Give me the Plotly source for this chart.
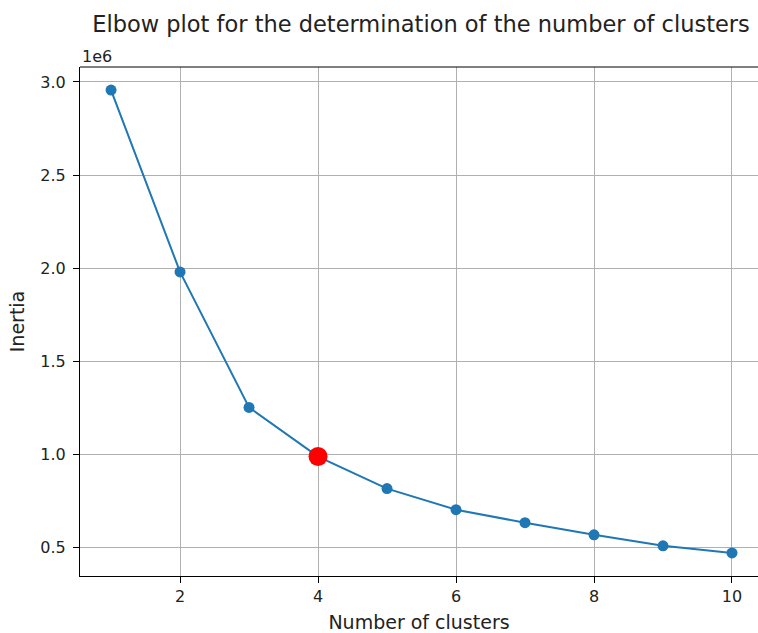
import plotly.graph_objects as go

n_clusters = [1, 2, 3, 4, 5, 6, 7, 8, 9, 10]
inertia = [2956000, 1980000, 1253000, 989000, 817000, 704000, 634000, 569000, 510000, 472000]
elbow_k = 4
elbow_inertia = 989000

x_ticks = [2, 4, 6, 8, 10]
y_ticks = [0.5, 1.0, 1.5, 2.0, 2.5, 3.0]
y_tick_labels = ["0.5", "1.0", "1.5", "2.0", "2.5", "3.0"]

scale = 1e6
y_scaled = [v / scale for v in inertia]

W, H = 758, 633
L, R, T, B = 80, 0, 67, 57

fig = go.Figure()
fig.add_trace(go.Scatter(
    x=n_clusters, y=y_scaled, mode="lines+markers",
    line=dict(color="#1f77b4", width=2),
    marker=dict(color="#1f77b4", size=11),
    showlegend=False, cliponaxis=False,
))
fig.add_trace(go.Scatter(
    x=[elbow_k], y=[elbow_inertia / scale], mode="markers",
    marker=dict(color="red", size=19),
    showlegend=False, cliponaxis=False,
))

axis_common = dict(
    showgrid=True, gridcolor="#b0b0b0", gridwidth=1,
    showline=True, linecolor="black", linewidth=1,
    ticks="outside", ticklen=6, tickwidth=1, tickcolor="black",
    tickfont=dict(family="DejaVu Sans", size=16, color="#222222"),
    zeroline=False,
)

fig.update_layout(
    width=W, height=H,
    margin=dict(l=L, r=R, t=T, b=B),
    paper_bgcolor="white", plot_bgcolor="white",
    xaxis=dict(range=[0.55, 10.377], tickvals=x_ticks,
               title=dict(text="Number of clusters", standoff=12,
                          font=dict(family="DejaVu Sans", size=19, color="#222222")),
               **axis_common),
    yaxis=dict(range=[0.348, 3.08], tickvals=y_ticks, ticktext=y_tick_labels,
               ticklabelstandoff=4,
               title=dict(text="Inertia", standoff=10,
                          font=dict(family="DejaVu Sans", size=19, color="#222222")),
               **axis_common),
    title=dict(text="Elbow plot for the determination of the number of clusters",
               x=421 / W, xanchor="center", y=1 - 24 / H, yanchor="middle",
               font=dict(family="DejaVu Sans", size=22.5, color="#222222")),
    shapes=[dict(type="line", xref="paper", yref="paper", x0=0, x1=1, y0=1, y1=1,
                 line=dict(color="black", width=1))],
    annotations=[dict(text="1e6", xref="paper", yref="paper", x=0, y=1,
                      xanchor="left", yanchor="bottom", yshift=-1, showarrow=False,
                      font=dict(family="DejaVu Sans", size=16, color="#222222"))],
)

fig.write_html("out.html")
